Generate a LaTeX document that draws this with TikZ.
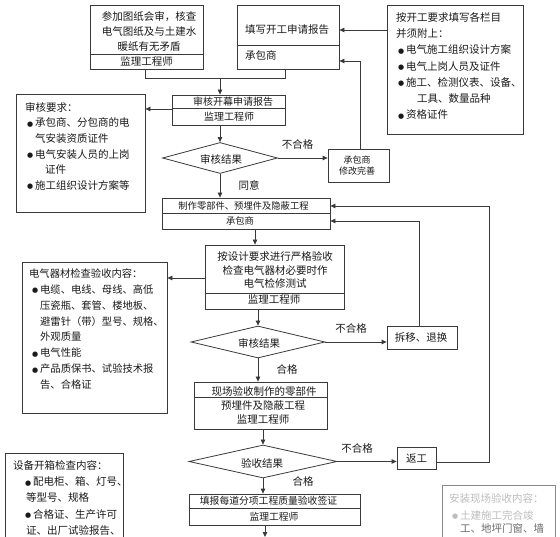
\documentclass[tikz,border=0pt]{standalone}
\usepackage{fontspec}
\setmainfont{Noto Sans CJK SC}
\newfontfamily\dvs{DejaVu Sans}
\usetikzlibrary{arrows.meta,shapes.geometric}
\definecolor{lc}{HTML}{3A3A3A}
\definecolor{tc}{HTML}{1A1A1A}
\definecolor{fadec}{HTML}{BDBDBD}
\definecolor{fadeb}{HTML}{8A8A8A}
\definecolor{midc}{HTML}{6A6A6A}
\newcommand\bul{\makebox[8pt][l]{\raisebox{0.5pt}{\dvs\fontsize{7}{7}\selectfont ●}}}
\begin{document}
\begin{tikzpicture}[x=1pt,y=-1pt,
  font=\fontsize{10.5}{14}\selectfont, text=tc,
  box/.style={draw=lc, line width=0.8pt, inner sep=0pt, rectangle},
  dia/.style={draw=lc, line width=0.8pt, diamond, aspect=4, inner sep=0pt},
  ln/.style={draw=lc, line width=0.8pt},
  arr/.style={ln, -{Triangle[length=5pt,width=4.5pt]}},
  lbl/.style={inner sep=0pt},
  txt/.style={inner sep=0pt},
  lst/.style={inner sep=0pt, align=left, anchor=north west}]
\useasboundingbox (0,0) rectangle (560,537);
\fill[white] (0,0) rectangle (560,537);

% A
\node[box, minimum width=113pt, minimum height=64pt] (A) at (146.5,37) {};
\draw[ln] (A.west |- 0,54) -- (A.east |- 0,54);
\node[txt, align=center, font=\fontsize{10.5}{15}\selectfont] (At) at (149,31.5) {参加图纸会审，核查\\电气图纸及与土建水\\暖纸有无矛盾};
\node[txt] (Am) at (146.5,61.5) {监理工程师};

% B
\node[box, minimum width=102pt, minimum height=64pt] (B) at (288,37) {};
\draw[ln] (B.west |- 0,45) -- (B.east |- 0,45);
\node[txt, anchor=west] (Bt) at (245,30) {填写开工申请报告};
\node[txt, anchor=west] (Bm) at (245,55.5) {承包商};

% C
\node[box, minimum width=136pt, minimum height=129pt] (C) at (455,69.5) {};
\node[lst, font=\fontsize{10.5}{16.2}\selectfont] (Ct) at (396,12.3) {按开工要求填写各栏目\\并须附上：\\\hspace*{2pt}\bul 电气施工组织设计方案\\\hspace*{2pt}\bul 电气上岗人员及证件\\\hspace*{2pt}\bul 施工、检测仪表、设备、\\\hspace*{21pt}工具、数量品种\\\hspace*{2pt}\bul 资格证件};

% R
\node[box, minimum width=113pt, minimum height=30pt] (R) at (228.5,110) {};
\draw[ln] (R.west |- 0,108) -- (R.east |- 0,108);
\node[txt, font=\fontsize{10}{12}\selectfont] (Rt) at (233,101.5) {审核开幕申请报告};
\node[txt, font=\fontsize{10}{12}\selectfont] (Rm) at (229,116.5) {监理工程师};

% K
\node[box, minimum width=129pt, minimum height=118pt] (K) at (80.5,153) {};
\node[lst, font=\fontsize{10.5}{15.6}\selectfont] (Kt) at (25,102.3) {审核要求：\\\hspace*{2pt}\bul 承包商、分包商的电\\\hspace*{10pt}气安装资质证件\\\hspace*{2pt}\bul 电气安装人员的上岗\\\hspace*{20pt}证件\\\hspace*{2pt}\bul 施工组织设计方案等};

% D1
\node[dia, minimum width=115pt, minimum height=31pt] (D1) at (220,158) {};
\node[txt] (D1t) at (221,159) {审核结果};

% M
\node[box, minimum width=61pt, minimum height=33pt] (M) at (358.5,165.5) {};
\node[txt, align=center, font=\fontsize{9}{11.5}\selectfont] (Mt) at (357,165.5) {承包商\\修改完善};

% P
\node[box, minimum width=168pt, minimum height=31pt] (P) at (246,213.5) {};
\draw[ln] (P.west |- 0,213) -- (P.east |- 0,213);
\node[txt, font=\fontsize{9.3}{11}\selectfont] (Pt) at (243.5,206) {制作零部件、预埋件及隐蔽工程};
\node[txt, font=\fontsize{9.3}{11}\selectfont] (Pm) at (240,220.5) {承包商};

% Q
\node[box, minimum width=139pt, minimum height=64pt] (Q) at (274.5,277) {};
\draw[ln] (Q.west |- 0,293) -- (Q.east |- 0,293);
\node[txt, align=center, font=\fontsize{10.5}{13.5}\selectfont] (Qt) at (275,270) {按设计要求进行严格验收\\检查电气器材必要时作\\电气检修测试};
\node[txt] (Qm) at (274,300) {监理工程师};

% E
\node[box, minimum width=145pt, minimum height=151pt] (E) at (94.5,337.5) {};
\node[lst, font=\fontsize{10.3}{15.9}\selectfont] (Et) at (29,268.4) {电气器材检查验收内容：\\\hspace*{3pt}\bul 电缆、电线、母线、高低\\\hspace*{11pt}压瓷瓶、套管、楼地板、\\\hspace*{11pt}避雷针（带）型号、规格、\\\hspace*{11pt}外观质量\\\hspace*{3pt}\bul 电气性能\\\hspace*{3pt}\bul 产品质保书、试验技术报\\\hspace*{11pt}告、合格证};

% D2
\node[dia, minimum width=134pt, minimum height=32pt] (D2) at (258,342) {};
\node[txt] (D2t) at (259,343) {审核结果};

% T
\node[box, minimum width=70pt, minimum height=23pt] (T) at (422,337.5) {};
\node[txt] (Tt) at (421,338) {拆移、退换};

% S
\node[box, minimum width=133pt, minimum height=47pt] (S) at (260.5,405.5) {};
\draw[ln] (S.west |- 0,397.5) -- (S.east |- 0,397.5);
\node[txt] (St1) at (264,391.5) {现场验收制作的零部件};
\node[txt, align=center, font=\fontsize{10.5}{13.5}\selectfont] (St2) at (263,412.5) {预埋件及隐蔽工程\\监理工程师};

% D3
\node[dia, minimum width=148pt, minimum height=33pt] (D3) at (263,461.5) {};
\node[txt] (D3t) at (262,463) {验收结果};

% F
\node[box, minimum width=39pt, minimum height=22pt] (F) at (416.5,458) {};
\node[txt] (Ft) at (416.5,458.5) {返工};

% G
\node[box, minimum width=171pt, minimum height=31pt] (G) at (274.5,509.5) {};
\draw[ln] (G.west |- 0,508) -- (G.east |- 0,508);
\node[txt, font=\fontsize{9.8}{12}\selectfont] (Gt) at (268.5,501) {填报每道分项工程质量验收签证};
\node[txt, font=\fontsize{9.8}{12}\selectfont] (Gm) at (274,516.5) {监理工程师};

% H
\node[box, minimum width=118pt, minimum height=110pt] (H) at (64,508) {};
\node[lst, font=\fontsize{10.5}{16.25}\selectfont] (Ht) at (13,460.3) {设备开箱检查内容：\\\hspace*{12pt}\bul 配电柜、箱、灯号、\\\hspace*{13pt}等型号、规格\\\hspace*{12pt}\bul 合格证、生产许可\\\hspace*{13pt}证、出厂试验报告、};

% I
\node[box, draw=fadeb, minimum width=113pt, minimum height=80pt] (I) at (498.5,525) {};
\node[txt, anchor=west, text=fadec] (I1) at (449,498) {安装现场验收内容：};
\node[txt, anchor=west, text=fadec] (I2) at (452,515) {\bul 土建施工完合竣};
\node[txt, anchor=west, text=midc] (I3) at (460,528.5) {工、地坪门窗、墙};

% connectors
\coordinate (ja) at (145,78);
\coordinate (jb) at (285,78);
\coordinate (jm) at (220,78);
\draw[ln] (A.south -| ja) -- (ja) -- (jb) -- (B.south -| jb);
\draw[arr] (jm) -- (R.north -| jm);
\draw[arr] (C.west |- Bt) -- (B.east |- Bt);
\coordinate (mu) at (360,61);
\draw[arr] (M.north -| mu) -- (mu) -- (B.east |- mu);
\coordinate (rk) at (172,109);
\draw[arr] (R.west |- rk) -- (K.east |- rk);
\draw[arr] (R.south -| D1.north) -- (D1.north);
\draw[arr] (D1.east) -- (M.west |- D1.east);
\draw[arr] (D1.south) -- (P.north -| D1.south);
\coordinate (pq) at (255,230);
\draw[arr] (P.south -| pq) -- (Q.north -| pq);
\coordinate (qe) at (205,278);
\draw[arr] (Q.west |- qe) -- (E.east |- qe);
\draw[arr] (Q.south -| D2.north) -- (D2.north);
\draw[arr] (D2.east) -- (T.west |- D2.east);
\coordinate (tu) at (419,221);
\draw[arr] (T.north -| tu) -- (tu) -- (P.east |- tu);
\draw[arr] (D2.south) -- (S.north -| D2.south);
\draw[arr] (S.south -| D3.north) -- (D3.north);
\draw[arr] (D3.east) -- (F.west |- D3.east);
\coordinate (fr) at (489,462);
\coordinate (fu) at (489,206);
\draw[arr] (F.east |- fr) -- (fr) -- (fu) -- (P.east |- fu);
\draw[arr] (D3.south) -- (G.north -| D3.south);
\coordinate (gout) at (265,537);
\draw[arr] (G.south -| gout) -- (gout);

% labels
\node[lbl] (L1) at (297.5,145) {不合格};
\node[lbl] (L2) at (249,185) {同意};
\node[lbl] (L3) at (351,329) {不合格};
\node[lbl] (L4) at (287,369) {合格};
\node[lbl] (L5) at (357,448) {不合格};
\node[lbl] (L6) at (303,481) {合格};
\end{tikzpicture}
\end{document}
